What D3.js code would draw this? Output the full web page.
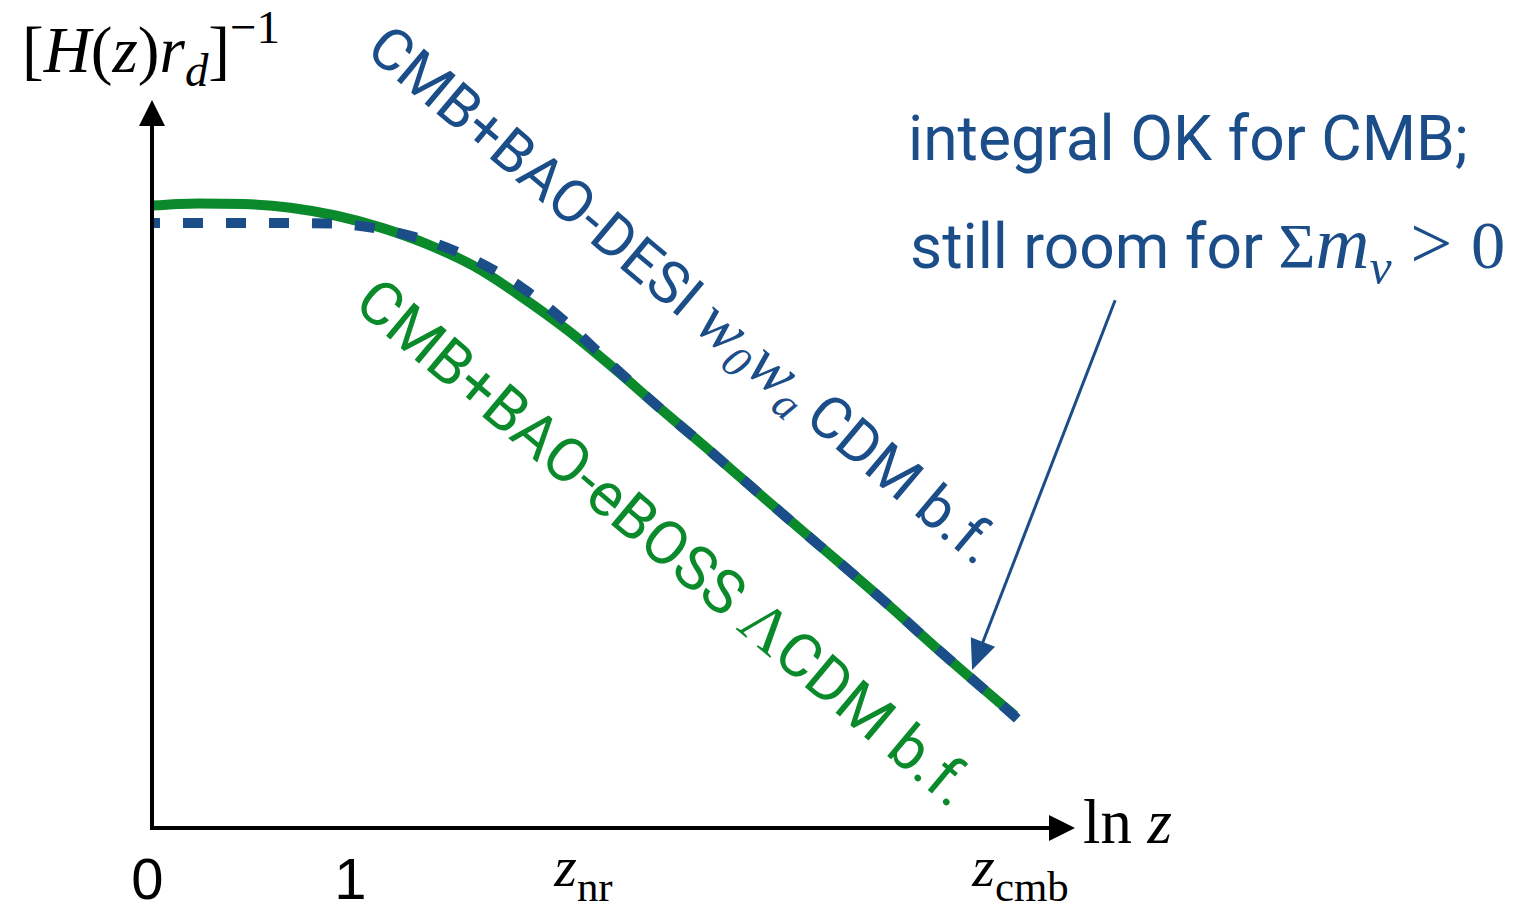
<!DOCTYPE html>
<html>
<head>
<meta charset="utf-8">
<script src="https://cdn.jsdelivr.net/npm/d3@7"></script>
<style>
  html, body { margin: 0; padding: 0; background: #ffffff; }
  svg { display: block; }
  text { white-space: pre; }
</style>
</head>
<body>
<svg id="chart" width="1517" height="911"></svg>
<script>
// Schematic of the inverse expansion rate vs ln z (arbitrary units on both axes)

// LCDM best fit (solid green)
const lcdmX      = [0, 1, 2, 3, 4, 5, 6, 7, 8, 9, 10, 11, 12, 13, 14, 15, 16, 17, 18, 18.7];
const lcdmValues = [8.55, 8.58, 8.57, 8.52, 8.41, 8.24, 8.01, 7.71, 7.30, 6.84, 6.32, 5.77, 5.23, 4.68, 4.13, 3.59, 3.04, 2.47, 1.92, 1.54];

// w0waCDM best fit (dashed blue)
const w0waX      = [0, 1, 2, 3, 4, 5, 6, 7, 8, 9, 10, 11, 12, 13, 14, 15, 16, 17, 18, 18.96];
const w0waValues = [8.31, 8.31, 8.31, 8.31, 8.30, 8.22, 8.06, 7.80, 7.43, 6.93, 6.34, 5.77, 5.23, 4.68, 4.13, 3.59, 3.04, 2.47, 1.92, 1.38];

// x-axis labels and where they sit
const tickLabels    = ["0", "1", "z_nr", "z_cmb"];
const tickPositions = [-0.1, 4.3, 9.35, 18.82];

// annotation arrow (start, tip) in data units
const noteArrowX = [20.87, 17.77];
const noteArrowY = [7.25, 2.17];

const BLUE  = "#1b4d89";
const GREEN = "#0b8a2c";
const SANS  = "Roboto, 'Liberation Sans', sans-serif";
const SERIF = "'Liberation Serif', 'DejaVu Serif', serif";
const DIGIT = "'Liberation Sans', Arial, sans-serif";

const svg = d3.select("#chart");
const x = d3.scaleLinear().domain([0, 20]).range([152, 1075]);
const y = d3.scaleLinear().domain([0, 10]).range([828, 100]);

// Rich text: parts = [{t, font, it, scale, shift}] ; shift in em of the base size (positive = down)
function richText(sel, parts, k) {
  sel.selectAll("tspan").remove();
  let cur = 0;
  parts.forEach(p => {
    const sc = p.scale || 1;
    const sh = p.shift || 0;
    sel.append("tspan")
      .attr("font-family", p.font === "serif" ? SERIF : (p.font === "digit" ? DIGIT : SANS))
      .attr("font-style", p.it ? "italic" : "normal")
      .attr("font-size", k * sc)
      .attr("dy", (sh - cur) * k)
      .text(p.t);
    cur = sh;
  });
}
function fitText(sel, parts, targetLen) {
  richText(sel, parts, 100);
  const len = sel.node().getComputedTextLength();
  const k = 100 * targetLen / len;
  richText(sel, parts, k);
  return k;
}

// ---- curves ----
const line = d3.line().x(d => x(d[0])).y(d => y(d[1])).curve(d3.curveMonotoneX);

svg.append("path")
  .attr("d", line(lcdmX.map((v, i) => [v, lcdmValues[i]])))
  .attr("fill", "none")
  .attr("stroke", GREEN)
  .attr("stroke-width", 10);

svg.append("path")
  .attr("d", line(w0waX.map((v, i) => [v, w0waValues[i]])))
  .attr("fill", "none")
  .attr("stroke", BLUE)
  .attr("stroke-width", 10)
  .attr("stroke-dasharray", "20 23")
  .attr("stroke-dashoffset", 12);

// ---- axes with arrowheads ----
const axes = svg.append("g").attr("fill", "#000").attr("stroke", "#000");
const x0 = x(0), y0 = y(0), xEnd = x(20), yEnd = y(10);
axes.append("line").attr("x1", x0 - 2).attr("x2", xEnd - 20).attr("y1", y0).attr("y2", y0).attr("stroke-width", 4);
axes.append("line").attr("x1", x0).attr("x2", x0).attr("y1", y0 + 2).attr("y2", yEnd + 20).attr("stroke-width", 4);
axes.append("path").attr("stroke", "none")
  .attr("d", `M${xEnd},${y0} L${xEnd - 26},${y0 - 13} L${xEnd - 26},${y0 + 13} Z`);
axes.append("path").attr("stroke", "none")
  .attr("d", `M${x0},${yEnd} L${x0 - 13},${yEnd + 26} L${x0 + 13},${yEnd + 26} Z`);

// ---- axis labels ----
const yLab = svg.append("text").attr("x", 22).attr("y", 72).attr("fill", "#000");
fitText(yLab, [
  {t: "[", font: "serif"}, {t: "H", font: "serif", it: true}, {t: "(", font: "serif"},
  {t: "z", font: "serif", it: true}, {t: ")", font: "serif"}, {t: "r", font: "serif", it: true},
  {t: "d", font: "serif", it: true, scale: 0.72, shift: 0.22},
  {t: "]", font: "serif", shift: 0},
  {t: "\u22121", font: "serif", scale: 0.72, shift: -0.45}
], 258);

const xLab = svg.append("text").attr("x", 1083).attr("y", 843).attr("fill", "#000");
fitText(xLab, [{t: "ln ", font: "serif"}, {t: "z", font: "serif", it: true}], 89);

tickLabels.forEach((lab, i) => {
  const t = svg.append("text").attr("x", x(tickPositions[i]))
    .attr("text-anchor", "middle").attr("fill", "#000");
  if (lab.startsWith("z_")) {
    richText(t, [
      {t: "z", font: "serif", it: true},
      {t: lab.slice(2), font: "serif", scale: 0.74, shift: 0.25}
    ], 58);
    t.attr("y", 886);
  } else {
    richText(t, [{t: lab, font: "digit"}], 58);
    t.attr("y", 899);
  }
});

// ---- rotated curve labels ----
const ANG = 40;
const blueLab = svg.append("text").attr("fill", BLUE)
  .attr("transform", `translate(364,53) rotate(${ANG})`);
fitText(blueLab, [
  {t: "CMB+BAO-DESI "},
  {t: "w", font: "serif", it: true, scale: 1.12},
  {t: "0", font: "serif", it: true, scale: 0.75, shift: 0.2},
  {t: "w", font: "serif", it: true, scale: 1.12, shift: 0},
  {t: "a", font: "serif", it: true, scale: 0.75, shift: 0.2},
  {t: "\u2009CDM b.f.", shift: 0}
], 800);

const greenLab = svg.append("text").attr("fill", GREEN)
  .attr("transform", `translate(352,307) rotate(${ANG})`);
fitText(greenLab, [
  {t: "CMB+BAO-eBOSS "},
  {t: "\u039B", font: "serif", scale: 1.05},
  {t: "CDM b.f."}
], 782);

// ---- annotation ----
const note1 = svg.append("text").attr("x", 908).attr("y", 160).attr("fill", BLUE);
const kNote = fitText(note1, [{t: "integral OK for CMB;"}], 560);
const note2 = svg.append("text").attr("x", 910).attr("y", 268).attr("fill", BLUE);
richText(note2, [
  {t: "still room for "},
  {t: "\u03A3", font: "serif", scale: 1.02},
  {t: "m", font: "serif", it: true, scale: 1.2},
  {t: "\u03BD", font: "serif", it: true, scale: 0.8, shift: 0.25},
  {t: " > ", font: "serif", scale: 1.2, shift: 0},
  {t: "0", font: "serif", scale: 1.1}
], kNote);

const ax1 = x(noteArrowX[0]), ay1 = y(noteArrowY[0]);
const ax2 = x(noteArrowX[1]), ay2 = y(noteArrowY[1]);
const dx = ax2 - ax1, dy = ay2 - ay1, L = Math.hypot(dx, dy);
const ux = dx / L, uy = dy / L, headLen = 30, headW = 13;
const bx = ax2 - ux * headLen, by = ay2 - uy * headLen;
svg.append("line").attr("x1", ax1).attr("y1", ay1).attr("x2", bx + ux * 4).attr("y2", by + uy * 4)
  .attr("stroke", BLUE).attr("stroke-width", 3);
svg.append("path").attr("fill", BLUE)
  .attr("d", `M${ax2},${ay2} L${bx - uy * headW},${by + ux * headW} L${bx + uy * headW},${by - ux * headW} Z`);
</script>
</body>
</html>
